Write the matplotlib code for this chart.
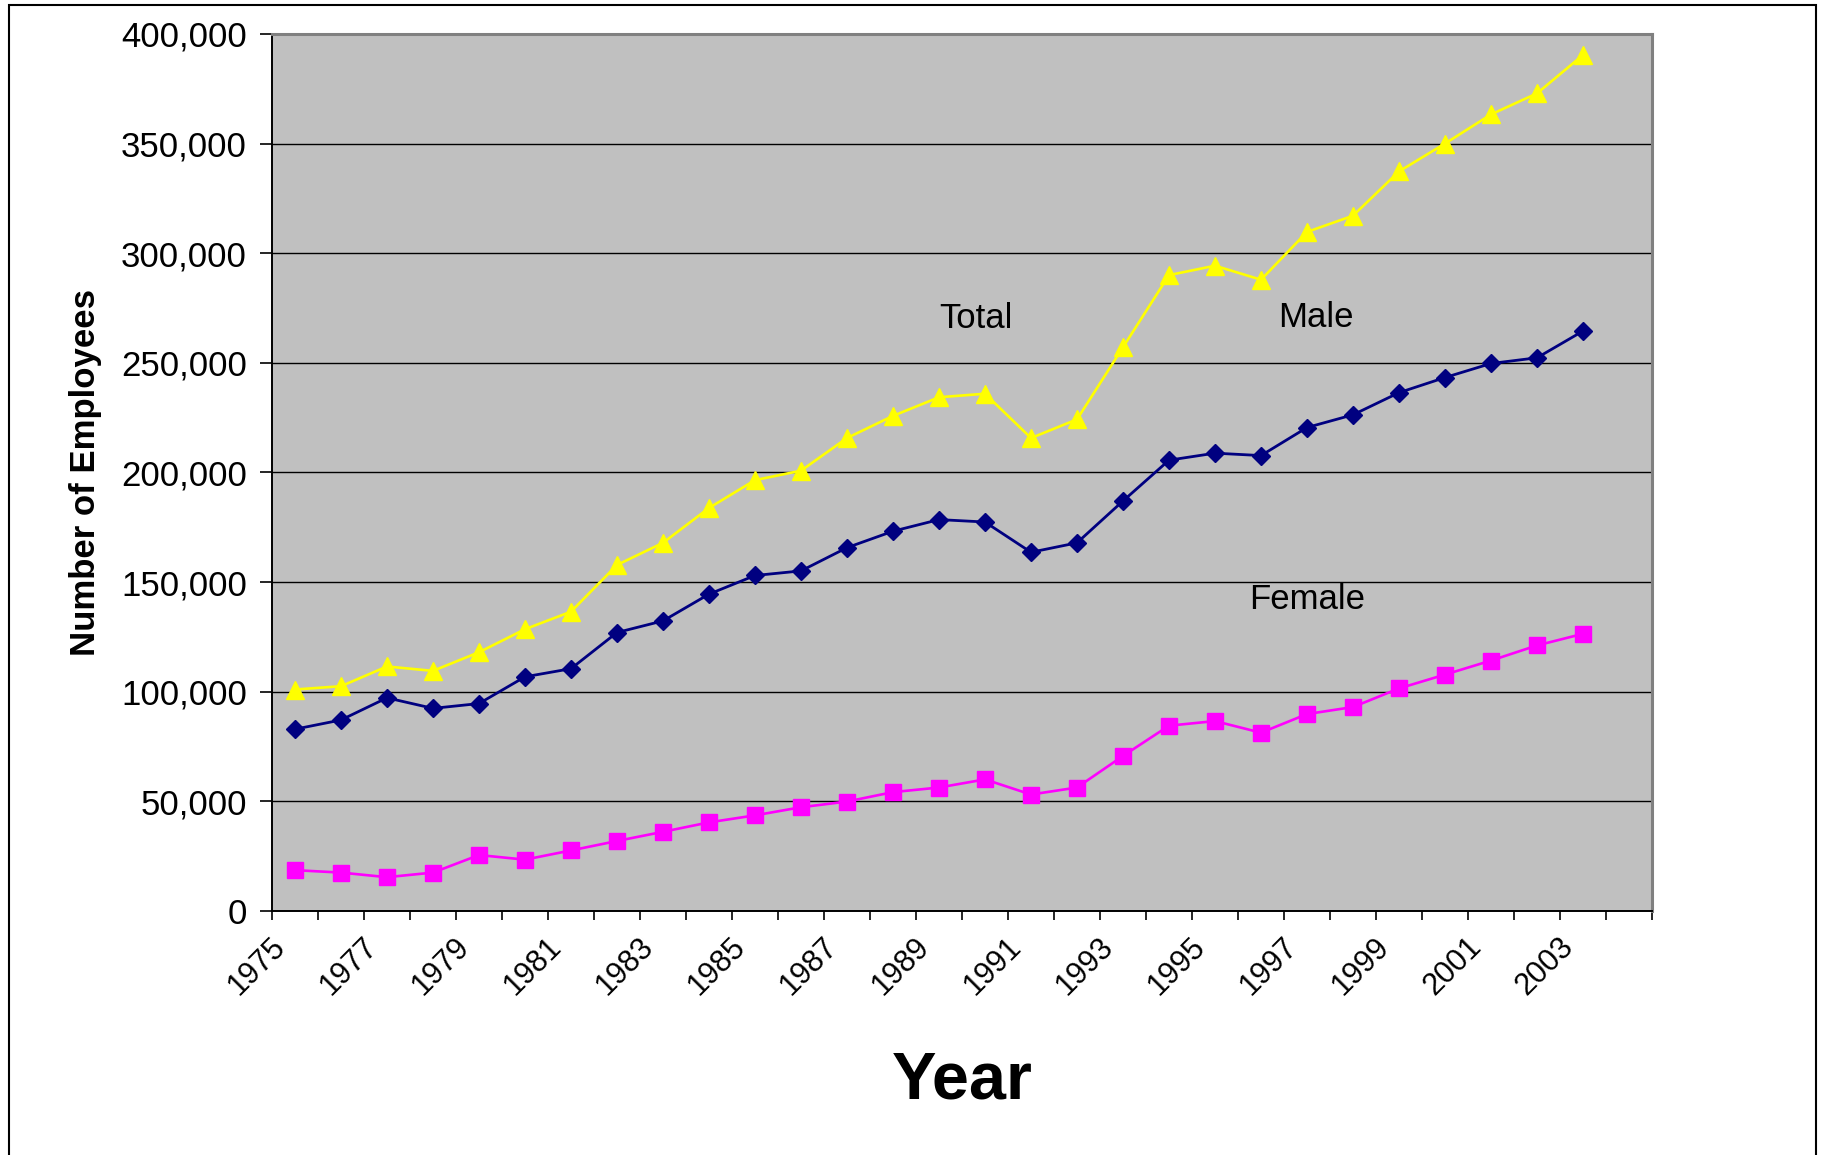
import matplotlib
matplotlib.use("Agg")
import matplotlib.pyplot as plt
from matplotlib.patches import Rectangle
from matplotlib.ticker import FuncFormatter, FixedLocator, NullFormatter
from matplotlib.transforms import ScaledTranslation

plt.rcParams["font.family"] = ["Liberation Sans", "DejaVu Sans"]

# Employment by year (1975-2004 categories; 2004 has no data yet)
years = list(range(1975, 2005))
total = [101000, 102500, 111500, 109500, 118000, 128500, 136500, 157800, 167900, 183800,
         196500, 200800, 215700, 225800, 234300, 235900, 215700, 224200, 257100, 290000,
         294300, 287900, 309700, 317100, 337300, 350000, 363300, 372900, 390400]
male = [82900, 87100, 97200, 92400, 94600, 106800, 110500, 127000, 132300, 144500,
        153000, 155100, 165700, 173200, 178500, 177400, 163600, 167900, 187000, 205600,
        208800, 207700, 220500, 226300, 236400, 243300, 249700, 252300, 264500]
female = [18600, 17500, 15400, 17500, 25500, 23400, 27600, 31900, 36100, 40400,
          43600, 47300, 49900, 54200, 56300, 60000, 53100, 56300, 70700, 84500,
          86600, 81300, 89800, 93000, 101500, 107800, 114200, 121100, 126400]
year_labels = [str(y) for y in years[::2]]
y_ticks = [0, 50000, 100000, 150000, 200000, 250000, 300000, 350000, 400000]

fig = plt.figure(figsize=(18.23, 11.55), dpi=100)
ax = fig.add_axes([0.1492, 0.2113, 0.9062 - 0.1492, 0.9706 - 0.2113])
ax.set_facecolor("#C0C0C0")

x = list(range(len(total)))
ax.plot(x, total, color="#FFFF00", lw=1.9, marker="^", ms=13, mec="#FFFF00", zorder=3)
ax.plot(x, male, color="#000080", lw=2.0, marker="D", ms=9.5, mec="#000080", zorder=4)
ax.plot(x, female, color="#FF00FF", lw=1.9, marker="s", ms=11, mec="#FF00FF", zorder=3)

ax.set_xlim(-0.5, len(years) - 0.5)
ax.set_ylim(0, 400000)

ax.yaxis.set_major_locator(FixedLocator(y_ticks))
ax.yaxis.set_major_formatter(FuncFormatter(lambda v, p: f"{int(v):,}"))
ax.grid(axis="y", color="black", lw=1.0, zorder=1)
ax.set_axisbelow(True)

# tick marks on the category boundaries
ax.xaxis.set_major_locator(FixedLocator([i - 0.5 for i in range(len(years) + 1)]))
ax.xaxis.set_major_formatter(NullFormatter())
ax.tick_params(axis="x", which="major", length=6.5, width=1.2, color="black", direction="out")
ax.tick_params(axis="y", length=9, width=1.2, color="black", labelsize=25, pad=9)

# year labels on every other category, slanted
label_shift = ScaledTranslation(-0.25, -15 / 72, fig.dpi_scale_trans)
for i, lab in zip(range(0, len(years), 2), year_labels):
    ax.text(i, 0, lab, transform=ax.get_xaxis_transform() + label_shift,
            rotation=45, ha="right", va="top", rotation_mode="anchor",
            fontsize=22, clip_on=False)

for side in ("top", "right"):
    ax.spines[side].set_color("#808080")
    ax.spines[side].set_linewidth(2.2)
for side in ("left", "bottom"):
    ax.spines[side].set_color("black")
    ax.spines[side].set_linewidth(1.4)

ax.set_ylabel("Number of Employees", fontsize=25, fontweight="bold")
ax.yaxis.label.set_va("center")
ax.yaxis.set_label_coords(-0.135, 0.5)

ax.set_xlabel("Year", fontsize=48, fontweight="bold")
ax.xaxis.label.set_va("baseline")
ax.xaxis.set_label_coords(0.5, -0.2144)

ax.text(14.8, 270000, "Total", fontsize=25, ha="center", va="center")
ax.text(22.2, 270500, "Male", fontsize=25, ha="center", va="center")
ax.text(22.0, 142000, "Female", fontsize=25, ha="center", va="center")

fig.patches.append(Rectangle((9 / 1823, -0.02), (1816 - 9) / 1823, 1 - 5 / 1155 + 0.02,
                             transform=fig.transFigure, fill=False, edgecolor="black",
                             lw=1.5))

fig.savefig("out.png", dpi=100)
